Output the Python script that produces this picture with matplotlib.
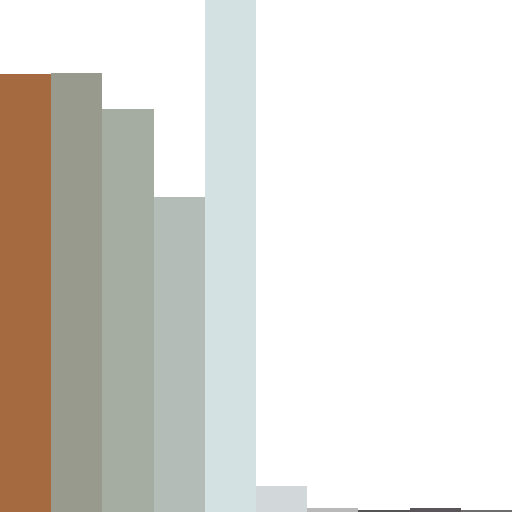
import matplotlib
matplotlib.use("Agg")
import matplotlib.pyplot as plt

# bar heights (pixels of a 512 px tall frame)
values = [438, 439, 403, 315, 512, 26, 4, 2, 4, 2]
colors = ["#A66A40", "#979A8C", "#A5ACA2", "#B3BCB7", "#D4E1E2",
          "#D2D7DA", "#B9B9B9", "#555555", "#5A5558", "#6E6B6B"]

fig = plt.figure(figsize=(5.12, 5.12), dpi=100)
ax = fig.add_axes([0, 0, 1, 1])
ax.bar(range(len(values)), values, width=1.0, align="edge", color=colors, linewidth=0)
ax.set_xlim(0, len(values))
ax.set_ylim(0, 512)
ax.axis("off")
fig.savefig("out.png", dpi=100)
